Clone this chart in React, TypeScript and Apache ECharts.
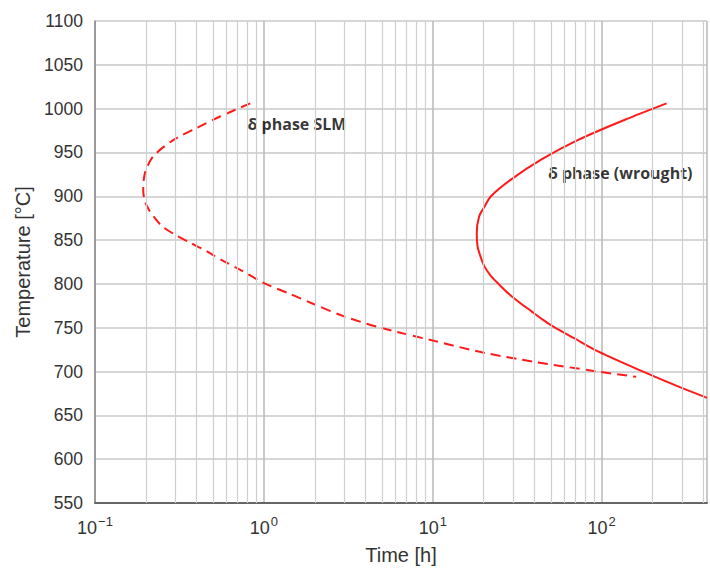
import React, { useEffect, useRef } from "react";
import * as echarts from "echarts";

// δ phase SLM curve: [time h, temperature °C]
const slmCurve: [number, number][] = [
  [0.83, 1006], [0.55, 991], [0.4, 978], [0.29, 964], [0.222, 946], [0.2, 930],
  [0.194, 918], [0.193, 907], [0.197, 895], [0.208, 885], [0.222, 877], [0.249, 866],
  [0.299, 856], [0.366, 847], [0.46, 837], [0.577, 826], [0.726, 816], [1.0, 801],
  [1.41, 789], [2.0, 776.5], [2.98, 763], [4.9, 750], [10.2, 735], [20, 721.5],
  [40, 711], [95, 700], [160, 694],
];

// δ phase wrought curve
const wroughtCurve: [number, number][] = [
  [242, 1006], [136, 987], [72, 964], [44, 942], [29, 919], [22.1, 900], [20.2, 888],
  [18.8, 877], [18.2, 858], [18.4, 843], [19.1, 832], [20.2, 820], [22.1, 809],
  [24.5, 800], [27.7, 790], [32, 780], [38.2, 769], [45, 759], [52, 751], [68.7, 738],
  [95, 723], [180, 699], [300, 681], [420, 670],
];

const minorGridX = [
  0.2, 0.3, 0.4, 0.5, 0.6, 0.7, 0.8, 0.9,
  2, 3, 4, 5, 6, 7, 8, 9,
  20, 30, 40, 50, 60, 70, 80, 90,
  200, 300, 400,
];

const annotations = [
  { text: "δ phase SLM", x: 0.8, y: 983 },
  { text: "δ phase (wrought)", x: 48, y: 927 },
];

export default function App() {
  const ref = useRef<HTMLDivElement>(null);
  useEffect(() => {
    if (!ref.current) return;
    const chart = echarts.init(ref.current, undefined, { renderer: "svg" });
    const fontFamily = "Liberation Sans, Arial, sans-serif";
    chart.setOption({
      animation: false,
      backgroundColor: "#ffffff",
      grid: { left: 95, right: 3, top: 21, bottom: 66 },
      xAxis: {
        type: "log",
        logBase: 10,
        min: 0.1,
        max: 420,
        name: "Time [h]",
        nameLocation: "middle",
        nameGap: 42,
        nameTextStyle: { fontSize: 20, color: "#333", fontFamily },
        axisLine: { onZero: false, lineStyle: { color: "#666", width: 2 } },
        axisTick: { show: false },
        splitLine: { show: true, lineStyle: { color: "#bdbdbd", width: 1.6 } },
        axisLabel: {
          margin: 12,
          formatter: (v: number) => {
            const l = Math.log10(v);
            const r = Math.round(l);
            if (Math.abs(l - r) > 1e-6) return "";
            return `{b|10}{s|${r < 0 ? "−" + Math.abs(r) : r}}`;
          },
          rich: {
            b: { fontSize: 18, color: "#333", fontFamily, lineHeight: 22, verticalAlign: "bottom" },
            s: { fontSize: 13, color: "#333", fontFamily, lineHeight: 22, verticalAlign: "top", padding: [0, 0, 8, 1] },
          },
        },
      },
      yAxis: {
        type: "value",
        min: 550,
        max: 1100,
        interval: 50,
        name: "Temperature [°C]",
        nameLocation: "middle",
        nameGap: 60,
        nameTextStyle: { fontSize: 20, color: "#333", fontFamily },
        axisLine: { show: true, lineStyle: { color: "#8a8a8a", width: 1.5 } },
        axisTick: { show: false },
        axisLabel: { fontSize: 17.5, color: "#333", fontFamily, margin: 12, formatter: (v: number) => String(v) },
        splitLine: { show: true, lineStyle: { color: "#c8c8c8", width: 1.5 } },
      },
      series: [
        {
          type: "line",
          data: [],
          silent: true,
          markLine: {
            silent: true,
            symbol: ["none", "none"],
            label: { show: false },
            lineStyle: { color: "#cfcfcf", width: 1.2, type: "solid" },
            data: minorGridX.map((x) => ({ xAxis: x })),
          },
        },
        {
          type: "line",
          data: slmCurve,
          smooth: 0.3,
          showSymbol: false,
          lineStyle: { color: "#ff1a1a", width: 2, type: [10, 6] },
        },
        {
          type: "line",
          data: wroughtCurve,
          smooth: 0.3,
          showSymbol: false,
          lineStyle: { color: "#ff1a1a", width: 2 },
        },
        {
          type: "scatter",
          data: annotations.map((a) => ({ value: [a.x, a.y], name: a.text })),
          symbolSize: 0,
          silent: true,
          label: {
            show: true,
            position: "right",
            distance: 0,
            formatter: (p: any) => p.name,
            fontSize: 16,
            fontWeight: "bold",
            color: "#000",
            fontFamily: "Open Sans, Noto Sans, sans-serif",
          },
        },
      ],
    });
    return () => chart.dispose();
  }, []);
  return <div ref={ref} style={{ position: "absolute", left: 0, top: 0, width: 710, height: 570 }} />;
}
